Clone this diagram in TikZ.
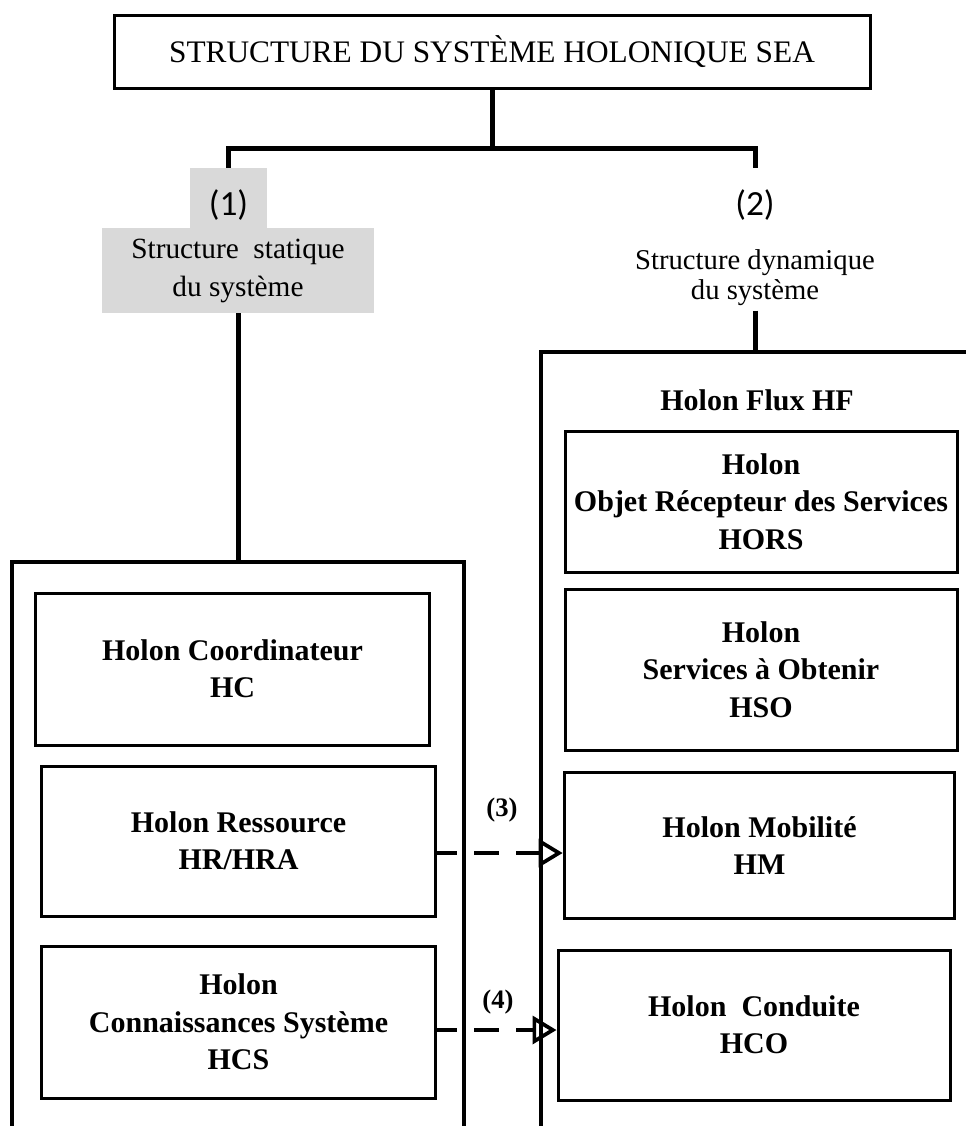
\documentclass[tikz,border=0pt]{standalone}
\usepackage{fontspec}
\setmainfont{Liberation Serif}
\newfontfamily\numfont{Carlito}
\usepackage{tikz}
\usetikzlibrary{arrows.meta}
\tikzset{>={Triangle[open,length=18pt,width=21pt,line width=2.8pt]}}
\tikzset{
  holon/.style={draw,line width=2.25pt,align=center,inner sep=0pt,font=\fontsize{22.5}{28}\selectfont\bfseries},
  numlbl/.style={minimum width=58pt,inner ysep=0pt,text height=36pt,text depth=9pt,font=\numfont\fontsize{26.5}{30}\selectfont},
  tree/.style={line width=3.75pt},
  frame/.style={line width=3.4pt},
  shade/.style={fill=black!15},
  flow/.style={->,line width=3.5pt,dash pattern=on 18.75pt off 12.75pt,dash phase=3.75pt},
}

\begin{document}
\begin{tikzpicture}[x=0.75pt,y=-0.75pt]
  \useasboundingbox (0,0) rectangle (966,1126);
  \node (title) at (492,52) [draw,line width=2.25pt,minimum width=567pt,minimum height=55pt,font=\fontsize{23.5}{27}\selectfont] {STRUCTURE DU SYSTÈME HOLONIQUE SEA};

  % the two branches
  \node (num1) at (228.5,198) [numlbl,shade] {(1)};
  \node (stat1) at (238,270.5) [shade,minimum width=204pt,minimum height=64pt,align=center,font=\fontsize{22}{28.5}\selectfont] {Structure~ statique\\du système};
  \node (num2) at (755,198) [numlbl] {(2)};
  \node (dyn1) at (755,278) [align=center,font=\fontsize{21.5}{22.5}\selectfont] {Structure dynamique\\du système};

  % outer frames, open at the bottom
  \node (stat) at (238,844) [outer sep=0pt,minimum width=339pt,minimum height=423pt] {};
  \node (dyn) at (753.5,739) [outer sep=0pt,minimum width=318.75pt,minimum height=580.5pt] {};
  \draw[frame] (stat.south west) -- (stat.north west) -- (stat.north east) -- (stat.south east);
  \draw[frame] (dyn.south west) -- (dyn.north west) -- (dyn.north east);

  % static side
  \node (hc) at (232.5,669) [holon,minimum width=296pt,minimum height=114pt] {Holon Coordinateur\\HC};
  \node (hr) at (238.5,841) [holon,minimum width=296pt,minimum height=112.5pt] {Holon Ressource\\HR/HRA};
  \node (hcs) at (238.5,1022) [holon,minimum width=296pt,minimum height=114pt] {Holon\\Connaissances Système\\HCS};

  % dynamic side
  \node (hf) at (757,400) [font=\fontsize{22.5}{28}\selectfont\bfseries] {Holon Flux HF};
  \node (hors) at (761,501.5) [holon,minimum width=294pt,minimum height=105.75pt] {Holon\\Objet Récepteur des Services\\HORS};
  \node (hso) at (761,669.5) [holon,minimum width=294pt,minimum height=120.75pt] {Holon\\Services à Obtenir\\HSO};
  \node (hm) at (759.5,845.5) [holon,minimum width=293pt,minimum height=110pt] {Holon Mobilité\\HM};
  \node (hco) at (754,1025) [holon,minimum width=294pt,minimum height=112.5pt] {Holon~ Conduite\\HCO};

  % tree
  \coordinate (split) at (492,149);
  \draw[tree] (title) -- (split);
  \draw[tree] (num1) |- (split) -| (num2);
  \draw[tree] (stat1) -- (stat1 |- stat.north);
  \draw[tree] (dyn1) -- (dyn1 |- dyn.north);

  % links (3) and (4)
  \draw[flow] ([yshift=-9pt]hr.east) -- ([yshift=-9pt]hr.east -| hm.west);
  \draw[flow] ([yshift=-6pt]hcs.east) -- ([yshift=-6pt]hcs.east -| hco.west);
  \node (lbl3) at (502,810) [font=\fontsize{20}{24}\selectfont\bfseries] {(3)};
  \node (lbl4) at (498,1002) [font=\fontsize{20}{24}\selectfont\bfseries] {(4)};
\end{tikzpicture}
\end{document}
